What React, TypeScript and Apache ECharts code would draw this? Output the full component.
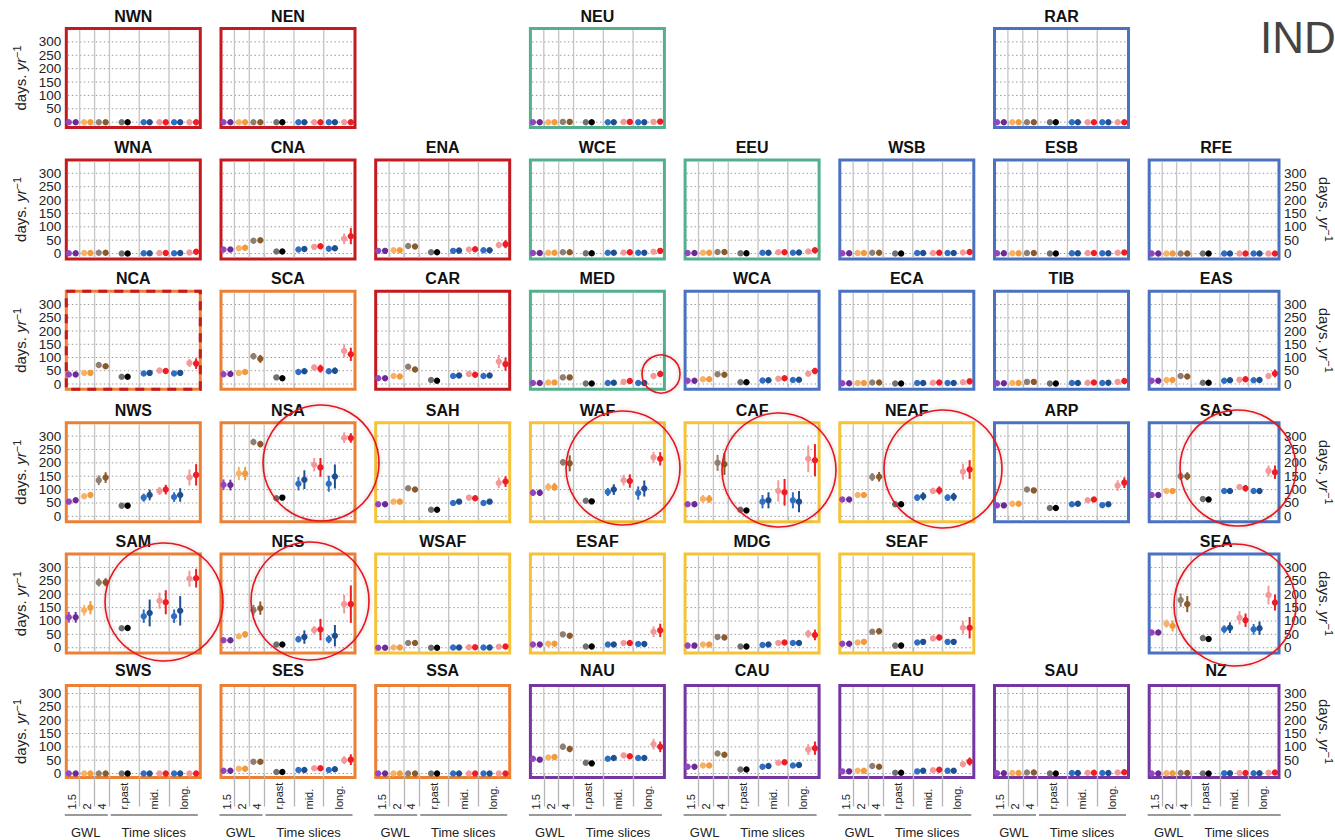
import React, { useEffect, useRef } from "react";
import * as echarts from "echarts";

// x positions of the 16 estimates (GWL 1.5 / 2 / 4, r.past, mid., long.)
const X_POS = [0.27, 0.73, 1.3, 1.72, 2.28, 2.74, 3.82, 4.22, 5.3, 5.7, 6.36, 6.78, 7.34, 7.75, 8.37, 8.82];
const TICK_POS = [0.5, 1.5, 2.5, 4, 6, 8];
const TICK_LABELS = ["1.5", "2", "4", "r.past", "mid.", "long."];
const BOUNDARIES = [1, 2, 3, 5, 7];
const Y_TICKS = [0, 50, 100, 150, 200, 250, 300];
const POINT_COLORS = [
  "#9446c2", "#6c2b94", "#f7b26a", "#f39a3a", "#8f7f73", "#8b5a2b", "#707070", "#000000",
  "#2e6fc5", "#1d4f91", "#f29a9a", "#ee1c25", "#2e6fc5", "#1d4f91", "#f29a9a", "#ee1c25",
];
const BORDER_COLORS: Record<string, string> = {
  red: "#c41a1f", green: "#52b08c", blue: "#4a72c0", orange: "#ec8035", yellow: "#f5c238", purple: "#7436a0",
};

const Z = [0, 0, 0, 0, 0, 0, 0, 0, 0, 0, 0, 0, 0, 0, 0, 0];

// ---- row 1
const NWN = [0, 0, 0, 0, 0, 0, 0, 0, 0, 0, 0, 0, 0, 0, 0, 0];
const NEN = [0, 0, 0, 0, 0, 0, 0, 0, 0, 0, 0, 0, 0, 0, 0, 0];
const NEU = [0, 0, 0, 0, 1, 1, 0, 0, 0, 0, 1, 1, 0, 0, 1, 2];
const RAR = [0, 0, 0, 0, 0, 0, 0, 0, 0, 0, 0, 0, 0, 0, 0, 0];
// ---- row 2
const WNA = [1, 1, 2, 2, 3, 3, 0, 0, 1, 1, 2, 2, 1, 2, 4, 7];
const WNA_E = [0, 0, 0, 0, 1, 1, 0, 0, 0, 0, 1, 1, 1, 1, 3, 5];
const CNA = [15, 15, 20, 22, 48, 50, 8, 8, 15, 17, 25, 27, 18, 20, 55, 65];
const CNA_E = [3, 3, 4, 4, 6, 6, 2, 2, 4, 4, 5, 5, 5, 5, 20, 30];
const ENA = [10, 10, 12, 12, 28, 26, 5, 5, 10, 11, 15, 16, 12, 12, 32, 35];
const ENA_E = [2, 2, 3, 3, 5, 5, 1, 1, 3, 3, 4, 4, 3, 3, 12, 15];
const WCE = [2, 2, 3, 3, 5, 5, 1, 1, 3, 3, 4, 5, 3, 3, 7, 10];
const WCE_E = [0, 0, 1, 1, 1, 1, 0, 0, 1, 1, 1, 1, 1, 1, 3, 4];
const EEU = [2, 2, 3, 3, 6, 6, 1, 1, 3, 3, 5, 5, 3, 4, 8, 12];
const EEU_E = [0, 0, 1, 1, 2, 2, 0, 0, 1, 1, 1, 1, 1, 1, 3, 5];
const WSB = [1, 1, 2, 2, 3, 3, 0, 0, 2, 2, 2, 3, 2, 2, 4, 6];
const ESB = [1, 1, 1, 1, 2, 2, 0, 0, 1, 1, 2, 2, 1, 1, 3, 4];
const RFE = [0, 0, 0, 0, 0, 0, 0, 0, 0, 0, 0, 0, 0, 0, 0, 0];
// ---- row 3
const NCA = [36, 36, 42, 42, 72, 67, 27, 27, 40, 42, 51, 49, 40, 42, 79, 77];
const NCA_E = [3, 3, 3, 3, 6, 6, 2, 2, 5, 5, 5, 6, 5, 6, 15, 20];
const SCA = [37, 38, 42, 45, 105, 95, 25, 22, 45, 48, 62, 58, 48, 50, 125, 112];
const SCA_E = [5, 5, 6, 8, 12, 15, 2, 2, 8, 10, 12, 15, 10, 12, 25, 25];
const CAR = [22, 22, 30, 28, 65, 55, 15, 12, 30, 32, 38, 35, 30, 32, 85, 75];
const CAR_E = [4, 4, 5, 5, 8, 10, 2, 2, 6, 6, 8, 10, 8, 8, 25, 25];
const MED = [4, 4, 6, 6, 25, 25, 2, 2, 4, 5, 8, 11, 4, 4, 30, 38];
const MED_E = [1, 1, 1, 1, 3, 3, 0, 0, 2, 2, 3, 3, 2, 2, 10, 10];
const WCA = [12, 12, 18, 18, 37, 35, 7, 7, 13, 14, 20, 22, 15, 16, 39, 49];
const WCA_E = [2, 2, 3, 3, 5, 5, 1, 1, 3, 3, 4, 4, 3, 3, 10, 12];
const ECA = [3, 3, 4, 4, 6, 6, 2, 2, 4, 4, 5, 6, 4, 4, 7, 10];
const ECA_E = [0, 0, 1, 1, 1, 1, 0, 0, 1, 1, 1, 1, 1, 1, 2, 3];
const TIB = [3, 3, 4, 4, 8, 8, 2, 2, 4, 4, 5, 6, 4, 5, 8, 11];
const TIB_E = [0, 0, 1, 1, 2, 2, 0, 0, 1, 1, 1, 1, 1, 1, 2, 3];
const EAS = [12, 12, 15, 15, 30, 28, 5, 5, 12, 14, 16, 18, 14, 15, 30, 40];
const EAS_E = [2, 2, 2, 2, 4, 4, 1, 1, 3, 3, 4, 4, 3, 3, 10, 15];
// ---- row 4
const NWS = [55, 60, 75, 80, 135, 145, 40, 40, 70, 80, 95, 100, 72, 80, 145, 155];
const NWS_E = [8, 8, 10, 10, 18, 20, 2, 2, 15, 20, 15, 18, 18, 25, 30, 40];
const NSA = [118, 117, 160, 160, 278, 270, 68, 70, 122, 137, 193, 183, 122, 149, 294, 293];
const NSA_E = [20, 20, 25, 25, 12, 12, 2, 2, 25, 35, 25, 35, 30, 45, 20, 18];
const SAH = [45, 45, 55, 55, 105, 100, 25, 25, 50, 55, 70, 68, 50, 55, 125, 130];
const SAH_E = [6, 6, 6, 6, 8, 8, 2, 2, 8, 8, 10, 10, 8, 8, 20, 20];
const WAF = [88, 88, 110, 110, 202, 198, 58, 56, 91, 100, 135, 132, 87, 104, 221, 215];
const WAF_E = [12, 12, 15, 15, 12, 30, 2, 2, 15, 20, 20, 25, 25, 30, 20, 25];
const CAF = [45, 45, 65, 65, 200, 195, 25, 22, 55, 60, 95, 90, 60, 55, 215, 210];
const CAF_E = [10, 10, 15, 15, 30, 40, 2, 2, 25, 30, 40, 50, 30, 40, 50, 60];
const NEAF = [63, 63, 80, 80, 147, 148, 45, 45, 70, 75, 95, 97, 70, 73, 167, 175];
const NEAF_E = [8, 8, 10, 10, 15, 18, 2, 2, 12, 15, 12, 15, 12, 15, 30, 35];
const ARP = [41, 41, 47, 47, 100, 97, 31, 31, 45, 47, 60, 63, 42, 45, 115, 126];
const ARP_E = [8, 5, 5, 5, 8, 8, 1, 1, 6, 6, 6, 8, 5, 6, 20, 20];
const SAS = [80, 80, 95, 95, 150, 150, 65, 63, 95, 95, 110, 105, 95, 95, 170, 165];
const SAS_E = [5, 5, 8, 8, 15, 15, 2, 2, 8, 8, 10, 12, 8, 10, 20, 25];
// ---- row 5
const SAM = [114, 114, 140, 150, 244, 245, 73, 74, 118, 130, 176, 170, 118, 138, 258, 260];
const SAM_E = [20, 20, 20, 25, 15, 15, 2, 2, 25, 50, 30, 45, 25, 55, 30, 35];
const NES = [28, 28, 43, 50, 140, 148, 12, 12, 32, 40, 66, 68, 32, 45, 163, 163];
const NES_E = [8, 8, 10, 12, 20, 25, 2, 2, 12, 25, 15, 40, 15, 40, 35, 70];
const WSAF = [0, 0, 1, 1, 18, 18, 0, 0, 1, 1, 2, 2, 1, 1, 4, 5];
const WSAF_E = [0, 0, 0, 0, 3, 3, 0, 0, 0, 0, 1, 1, 0, 0, 2, 3];
const ESAF = [12, 12, 15, 15, 50, 45, 5, 5, 12, 12, 18, 18, 14, 14, 60, 65];
const ESAF_E = [2, 2, 3, 3, 6, 6, 1, 1, 3, 3, 4, 4, 3, 3, 20, 25];
const MDG = [8, 8, 12, 12, 40, 38, 5, 5, 10, 12, 18, 20, 18, 18, 52, 48];
const MDG_E = [2, 2, 2, 2, 5, 5, 1, 1, 3, 3, 4, 4, 4, 4, 15, 20];
const SEAF = [15, 15, 20, 22, 60, 62, 8, 8, 20, 22, 35, 38, 22, 22, 75, 75];
const SEAF_E = [3, 3, 4, 4, 8, 10, 1, 1, 5, 6, 8, 10, 6, 6, 25, 40];
const SEA = [57, 57, 90, 81, 178, 163, 36, 33, 69, 75, 112, 103, 69, 73, 197, 169];
const SEA_E = [8, 8, 15, 20, 25, 30, 2, 2, 15, 20, 25, 25, 20, 25, 35, 30];
// ---- row 6
const SWS = [0, 0, 0, 0, 0, 0, 0, 0, 0, 0, 0, 0, 0, 0, 0, 0];
const SES = [10, 10, 18, 18, 44, 44, 6, 6, 13, 13, 20, 20, 13, 16, 50, 52];
const SES_E = [2, 2, 3, 3, 4, 4, 1, 1, 2, 2, 4, 8, 3, 3, 15, 20];
const SSA = [0, 0, 0, 0, 0, 0, 0, 0, 0, 0, 0, 0, 0, 0, 0, 0];
const NAU = [55, 52, 60, 62, 100, 92, 40, 38, 55, 58, 68, 65, 58, 58, 110, 100];
const NAU_E = [5, 5, 6, 6, 12, 12, 2, 2, 6, 6, 8, 8, 8, 8, 20, 20];
const CAU = [25, 25, 30, 30, 75, 70, 15, 15, 25, 28, 40, 42, 30, 32, 90, 95];
const CAU_E = [3, 3, 4, 4, 8, 8, 1, 1, 4, 4, 5, 5, 5, 5, 20, 25];
const EAU = [8, 8, 10, 10, 28, 25, 3, 3, 8, 10, 12, 14, 10, 10, 35, 45];
const EAU_E = [1, 1, 2, 2, 4, 4, 0, 0, 2, 2, 3, 3, 2, 2, 10, 15];
const SAU = [1, 1, 2, 2, 4, 4, 0, 0, 2, 2, 3, 3, 2, 2, 4, 5];
const NZ = [0, 0, 1, 1, 2, 2, 0, 0, 1, 1, 2, 2, 1, 1, 3, 4];

type Panel = { name: string; row: number; col: number; border: string; med: number[]; err: number[]; dashed?: boolean };

const PANELS: Panel[] = [
  { name: "NWN", row: 0, col: 0, border: "red", med: NWN, err: Z },
  { name: "NEN", row: 0, col: 1, border: "red", med: NEN, err: Z },
  { name: "NEU", row: 0, col: 3, border: "green", med: NEU, err: Z },
  { name: "RAR", row: 0, col: 6, border: "blue", med: RAR, err: Z },
  { name: "WNA", row: 1, col: 0, border: "red", med: WNA, err: WNA_E },
  { name: "CNA", row: 1, col: 1, border: "red", med: CNA, err: CNA_E },
  { name: "ENA", row: 1, col: 2, border: "red", med: ENA, err: ENA_E },
  { name: "WCE", row: 1, col: 3, border: "green", med: WCE, err: WCE_E },
  { name: "EEU", row: 1, col: 4, border: "green", med: EEU, err: EEU_E },
  { name: "WSB", row: 1, col: 5, border: "blue", med: WSB, err: Z },
  { name: "ESB", row: 1, col: 6, border: "blue", med: ESB, err: Z },
  { name: "RFE", row: 1, col: 7, border: "blue", med: RFE, err: Z },
  { name: "NCA", row: 2, col: 0, border: "orange", med: NCA, err: NCA_E, dashed: true },
  { name: "SCA", row: 2, col: 1, border: "orange", med: SCA, err: SCA_E },
  { name: "CAR", row: 2, col: 2, border: "red", med: CAR, err: CAR_E },
  { name: "MED", row: 2, col: 3, border: "green", med: MED, err: MED_E },
  { name: "WCA", row: 2, col: 4, border: "blue", med: WCA, err: WCA_E },
  { name: "ECA", row: 2, col: 5, border: "blue", med: ECA, err: ECA_E },
  { name: "TIB", row: 2, col: 6, border: "blue", med: TIB, err: TIB_E },
  { name: "EAS", row: 2, col: 7, border: "blue", med: EAS, err: EAS_E },
  { name: "NWS", row: 3, col: 0, border: "orange", med: NWS, err: NWS_E },
  { name: "NSA", row: 3, col: 1, border: "orange", med: NSA, err: NSA_E },
  { name: "SAH", row: 3, col: 2, border: "yellow", med: SAH, err: SAH_E },
  { name: "WAF", row: 3, col: 3, border: "yellow", med: WAF, err: WAF_E },
  { name: "CAF", row: 3, col: 4, border: "yellow", med: CAF, err: CAF_E },
  { name: "NEAF", row: 3, col: 5, border: "yellow", med: NEAF, err: NEAF_E },
  { name: "ARP", row: 3, col: 6, border: "blue", med: ARP, err: ARP_E },
  { name: "SAS", row: 3, col: 7, border: "blue", med: SAS, err: SAS_E },
  { name: "SAM", row: 4, col: 0, border: "orange", med: SAM, err: SAM_E },
  { name: "NES", row: 4, col: 1, border: "orange", med: NES, err: NES_E },
  { name: "WSAF", row: 4, col: 2, border: "yellow", med: WSAF, err: WSAF_E },
  { name: "ESAF", row: 4, col: 3, border: "yellow", med: ESAF, err: ESAF_E },
  { name: "MDG", row: 4, col: 4, border: "yellow", med: MDG, err: MDG_E },
  { name: "SEAF", row: 4, col: 5, border: "yellow", med: SEAF, err: SEAF_E },
  { name: "SEA", row: 4, col: 7, border: "blue", med: SEA, err: SEA_E },
  { name: "SWS", row: 5, col: 0, border: "orange", med: SWS, err: Z },
  { name: "SES", row: 5, col: 1, border: "orange", med: SES, err: SES_E },
  { name: "SSA", row: 5, col: 2, border: "orange", med: SSA, err: Z },
  { name: "NAU", row: 5, col: 3, border: "purple", med: NAU, err: NAU_E },
  { name: "CAU", row: 5, col: 4, border: "purple", med: CAU, err: CAU_E },
  { name: "EAU", row: 5, col: 5, border: "purple", med: EAU, err: EAU_E },
  { name: "SAU", row: 5, col: 6, border: "purple", med: SAU, err: Z },
  { name: "NZ", row: 5, col: 7, border: "purple", med: NZ, err: Z },
];

// highlight circles (annotation overlay): [cx, cy, r]
const HIGHLIGHTS = [
  [661, 374, 19], [321, 463, 58], [623, 468, 57], [779, 470, 57], [943, 469, 59],
  [1238, 468, 58], [164, 602, 59], [310, 601, 59], [1235, 605, 61],
];

const FONT = "Liberation Sans, Arial, sans-serif";
const COL0 = 64.8, COL_STEP = 154.7, BOX_W = 137;
const ROW_TOPS = [27, 158.4, 289.8, 421.2, 552.6, 684];
const ROW_H = [102, 102, 101, 102, 102, 95];
const BW = 3;

function buildOption() {
  const grid: any[] = [], xAxis: any[] = [], yAxis: any[] = [], series: any[] = [], graphic: any[] = [];
  const yName = "{a|days. }{i|yr}{s|−1}";
  const nameRich = {
    a: { fontSize: 15, fontFamily: FONT, color: "#222" },
    i: { fontSize: 15, fontFamily: FONT, color: "#222", fontStyle: "italic" },
    s: { fontSize: 11, fontFamily: FONT, color: "#222", verticalAlign: "top", padding: [0, 0, 8, 0] },
  };
  PANELS.forEach((p, idx) => {
    const L = COL0 + COL_STEP * p.col;
    const T = ROW_TOPS[p.row];
    const H = ROW_H[p.row];
    const last = p.row === 5;
    const yMin = last ? -15 : -20, yMax = last ? 330 : 350;
    grid.push({
      left: L + BW / 2, top: T + BW / 2, width: BOX_W - BW, height: H - BW,
      show: true, backgroundColor: "#fff", borderColor: BORDER_COLORS[p.border], borderWidth: BW,
    });
    xAxis.push({
      type: "value", gridIndex: idx, min: 0.1, max: 9.1,
      axisLine: { show: false },
      axisTick: { show: true, customValues: BOUNDARIES, length: last ? 33 : 4, lineStyle: { color: "#b5b5b5", width: 1.3 } },
      splitLine: { show: false },
      axisLabel: {
        show: last, customValues: TICK_POS, rotate: 90, align: "left", verticalAlign: "middle", margin: 32,
        fontSize: 11, fontFamily: FONT, color: "#222", width: 120, overflow: "none", hideOverlap: false,
        showMinLabel: true, showMaxLabel: true,
        formatter: (v: number) => TICK_LABELS[TICK_POS.indexOf(v)] ?? "",
      },
    });
    const leftLab = p.col === 0, rightLab = p.col === 7;
    yAxis.push({
      type: "value", gridIndex: idx, min: yMin, max: yMax,
      position: rightLab ? "right" : "left",
      axisLine: { show: false }, axisTick: { show: false },
      splitLine: { show: false },
      axisLabel: {
        show: leftLab || rightLab, customValues: [yMin, ...Y_TICKS, yMax], fontSize: 13.5, lineHeight: 11, fontFamily: FONT, color: "#222", margin: 5,
        align: rightLab ? "left" : "right", hideOverlap: false,
        formatter: (v: number) => (Y_TICKS.indexOf(v) >= 0 ? String(v) : ""),
      },
      name: leftLab || rightLab ? yName : "",
      nameLocation: "middle", nameRotate: rightLab ? -90 : 90, nameGap: 36,
      nameTextStyle: { rich: nameRich },
    });
    // horizontal dotted gridlines
    series.push({
      type: "custom", xAxisIndex: idx, yAxisIndex: idx, silent: true, z: 1,
      data: Y_TICKS.map((v) => [0.1, v]),
      renderItem: (_params: any, api: any) => {
        const v = api.value(1);
        const a = api.coord([0.1, v]), b = api.coord([9.1, v]);
        return { type: "line", shape: { x1: a[0] + 1.5, y1: a[1], x2: b[0] - 1.5, y2: b[1] }, style: { stroke: "#9a9a9a", lineWidth: 1, lineDash: [1.5, 2.5] } };
      },
    });
    // vertical group separators
    series.push({
      type: "custom", xAxisIndex: idx, yAxisIndex: idx, silent: true, z: 1,
      data: BOUNDARIES.map((b) => [b, yMin]),
      renderItem: (_params: any, api: any) => {
        const x = api.value(0);
        const a = api.coord([x, yMin]), b = api.coord([x, yMax]);
        return { type: "line", shape: { x1: a[0], y1: a[1] - 1.5, x2: b[0], y2: b[1] + 1.5 }, style: { stroke: "#c4c4c4", lineWidth: 1.3 } };
      },
    });
    series.push({
      type: "custom", xAxisIndex: idx, yAxisIndex: idx, silent: true, z: 3,
      data: p.med.map((v, i) => [X_POS[i], v, v - p.err[i], v + p.err[i], i]),
      renderItem: (_params: any, api: any) => {
        const x = api.value(0), y = api.value(1), lo = api.value(2), hi = api.value(3), ci = api.value(4);
        const color = POINT_COLORS[ci];
        const c = api.coord([x, y]);
        const children: any[] = [];
        if (hi > lo) {
          const a = api.coord([x, lo]), b = api.coord([x, hi]);
          children.push({ type: "line", shape: { x1: a[0], y1: a[1], x2: b[0], y2: b[1] }, style: { stroke: color, lineWidth: 2 } });
        }
        children.push({ type: "circle", shape: { cx: c[0], cy: c[1], r: 3.2 }, style: { fill: color } });
        return { type: "group", children };
      },
    });
    // panel title
    graphic.push({
      type: "text", x: L + BOX_W / 2, y: T - (last ? 14 : 11),
      style: { text: p.name, font: `bold 16px ${FONT}`, fill: "#111", align: "center", verticalAlign: "middle" },
    });
    if (p.dashed) {
      graphic.push({
        type: "rect", shape: { x: L + BW / 2, y: T + BW / 2, width: BOX_W - BW, height: H - BW },
        style: { fill: "none", stroke: BORDER_COLORS.red, lineWidth: BW, lineDash: [9, 7] }, z: 5,
      });
    }
    if (last) {
      const by = T + H + 36;
      graphic.push({ type: "line", shape: { x1: L, y1: by, x2: L + 43, y2: by }, style: { stroke: "#777", lineWidth: 1.3 } });
      graphic.push({ type: "line", shape: { x1: L + 46, y1: by, x2: L + 133, y2: by }, style: { stroke: "#777", lineWidth: 1.3 } });
      graphic.push({ type: "text", x: L + 21, y: by + 17, style: { text: "GWL", font: `13px ${FONT}`, fill: "#222", align: "center", verticalAlign: "middle" } });
      graphic.push({ type: "text", x: L + 89, y: by + 17, style: { text: "Time slices", font: `13px ${FONT}`, fill: "#222", align: "center", verticalAlign: "middle" } });
    }
  });
  HIGHLIGHTS.forEach(([cx, cy, r]) => {
    graphic.push({
      type: "circle", shape: { cx, cy, r }, z: 10,
      style: { fill: "none", stroke: "#e8141c", lineWidth: 1.6, shadowBlur: 4, shadowColor: "rgba(0,0,0,0.25)" },
    });
  });
  graphic.push({ type: "text", x: 1260, y: 37, style: { text: "IND", font: `44px ${FONT}`, fill: "#444", verticalAlign: "middle" } });
  return { animation: false, backgroundColor: "#fff", textStyle: { fontFamily: FONT }, grid, xAxis, yAxis, series, graphic };
}

export default function App() {
  const ref = useRef<HTMLDivElement>(null);
  useEffect(() => {
    if (!ref.current) return;
    const chart = echarts.init(ref.current, undefined, { renderer: "svg" });
    chart.setOption(buildOption() as any);
    return () => chart.dispose();
  }, []);
  return <div ref={ref} style={{ position: "absolute", left: 0, top: 0, width: 1335, height: 840 }} />;
}
